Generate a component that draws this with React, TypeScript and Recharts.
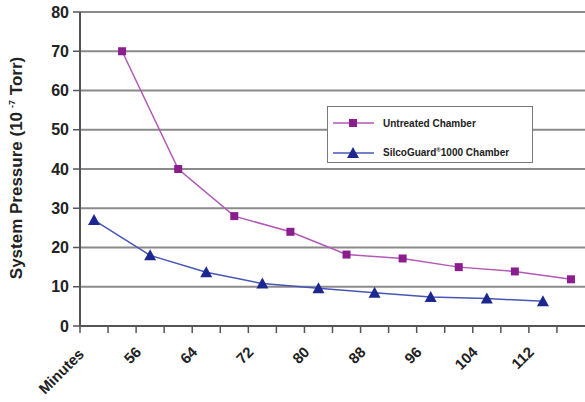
import { LineChart, Line, XAxis, YAxis, CartesianGrid, Legend } from 'recharts';

// minutes on the x axis (untreated readings sit between the SilcoGuard ones)
const untreatedMinutes = [52, 60, 68, 76, 84, 92, 100, 108, 116];
const untreatedPressure = [70, 40, 28, 24, 18.2, 17.2, 15, 13.9, 11.9];

const silcoMinutes = [48, 56, 64, 72, 80, 88, 96, 104, 112];
const silcoPressure = [27, 18, 13.7, 10.8, 9.6, 8.5, 7.4, 7.0, 6.3];

const xTicks = [46, 50, 54, 58, 62, 66, 70, 74, 78, 82, 86, 90, 94, 98, 102, 106, 110, 114];
const xLabels = ['Minutes', '56', '64', '72', '80', '88', '96', '104', '112'];
const yTicks = [0, 10, 20, 30, 40, 50, 60, 70, 80];

const PURPLE = '#8c1d8f';
const PURPLE_LINE = '#b259b6';
const BLUE = '#1d2790';
const BLUE_LINE = '#4656b6';
const FONT = '"Liberation Sans", Arial, sans-serif';

interface Row {
  minute: number;
  untreated: number | null;
  silco: number | null;
}

const rows: Row[] = [
  ...untreatedMinutes.map((m, i) => ({ minute: m, untreated: untreatedPressure[i], silco: null })),
  ...silcoMinutes.map((m, i) => ({ minute: m, untreated: null, silco: silcoPressure[i] })),
].sort((a, b) => a.minute - b.minute);

const SquareDot = (props: any) => {
  const { cx, cy, value } = props;
  if (value == null || cx == null) return null;
  return <rect x={cx - 4} y={cy - 4} width={8} height={8} fill={PURPLE} />;
};

const TriangleDot = (props: any) => {
  const { cx, cy, value } = props;
  if (value == null || cx == null) return null;
  return <polygon points={`${cx},${cy - 6} ${cx + 6},${cy + 5} ${cx - 6},${cy + 5}`} fill={BLUE} />;
};

// only every other tick gets a label, pushed right onto the data column
const XTick = (props: any) => {
  const { x, y, payload } = props;
  const idx = xTicks.indexOf(payload.value);
  if (idx < 0 || idx % 2 !== 0) return null;
  const label = xLabels[idx / 2];
  const ax = x + (idx === 0 ? 5 : 6);
  const ay = y + (idx === 0 ? 20 : 18);
  return (
    <text
      x={ax}
      y={ay}
      textAnchor="end"
      transform={`rotate(-45, ${ax}, ${ay})`}
      fontFamily={FONT}
      fontSize={15}
      fontWeight="bold"
      fill="#222"
    >
      {label}
    </text>
  );
};

const YTitle = () => (
  <text
    x={22}
    y={168}
    textAnchor="middle"
    transform="rotate(-90, 22, 168)"
    fontFamily={FONT}
    fontSize={17}
    fontWeight="bold"
    fill="#222"
  >
    System Pressure (10
    <tspan dx={4} dy={-7} fontSize={9}>-7</tspan>
    <tspan dy={7}> Torr)</tspan>
  </text>
);

const LegendBox = () => {
  const items = [
    { label: 'Untreated Chamber', line: PURPLE_LINE, kind: 'square' },
    { label: 'SilcoGuard', sup: '®', rest: '1000 Chamber', line: BLUE_LINE, kind: 'triangle' },
  ];
  return (
    <div
      style={{
        width: 206,
        height: 57,
        boxSizing: 'border-box',
        border: '1px solid #7a7a7a',
        background: '#fff',
        fontFamily: FONT,
        fontSize: 10,
        fontWeight: 'bold',
        color: '#222',
        position: 'relative',
      }}
    >
      {items.map((it, i) => (
        <div
          key={it.label}
          style={{ position: 'absolute', left: 5, top: i === 0 ? 9 : 39, height: 14, display: 'flex', alignItems: 'center' }}
        >
          <svg width={42} height={14}>
            <line x1={0} y1={7} x2={41} y2={7} stroke={it.line} strokeWidth={1.5} />
            {it.kind === 'square' ? (
              <rect x={16} y={3} width={8} height={8} fill={PURPLE} />
            ) : (
              <polygon points="20,1 26,12 14,12" fill={BLUE} />
            )}
          </svg>
          <span style={{ marginLeft: 8, whiteSpace: 'nowrap' }}>
            {it.label}
            {it.sup && <sup style={{ fontSize: 6 }}>{it.sup}</sup>}
            {it.rest}
          </span>
        </div>
      ))}
    </div>
  );
};

export default function App() {
  return (
    <div style={{ position: 'absolute', left: 0, top: 0, width: 585, height: 402, background: '#fff' }}>
      <LineChart width={585} height={402} data={rows} margin={{ top: 12, right: 0, bottom: 46, left: 0 }}>
        <CartesianGrid horizontal vertical={false} stroke="#8a8a8a" strokeWidth={2} />
        <XAxis
          type="number"
          dataKey="minute"
          domain={[46, 118]}
          ticks={xTicks}
          interval={0}
          allowDataOverflow
          height={30}
          tick={<XTick />}
          tickSize={7}
          axisLine={{ stroke: '#555', strokeWidth: 2 }}
          tickLine={{ stroke: '#555', strokeWidth: 1.5 }}
        />
        <YAxis
          type="number"
          domain={[0, 80]}
          ticks={yTicks}
          interval={0}
          width={80}
          tickSize={7}
          tickMargin={4}
          axisLine={{ stroke: '#555', strokeWidth: 2 }}
          tickLine={{ stroke: '#555', strokeWidth: 1.5 }}
          tick={{ fontFamily: FONT, fontSize: 16, fontWeight: 'bold', fill: '#222' }}
          label={{ content: () => <YTitle /> }}
        />
        <Legend
          verticalAlign="middle"
          align="center"
          layout="horizontal"
          wrapperStyle={{ left: 327, top: 106, width: 206 }}
          content={() => <LegendBox />}
        />
        <Line
          type="linear"
          dataKey="untreated"
          stroke={PURPLE_LINE}
          strokeWidth={1.5}
          dot={<SquareDot />}
          activeDot={false}
          connectNulls
          isAnimationActive={false}
        />
        <Line
          type="linear"
          dataKey="silco"
          stroke={BLUE_LINE}
          strokeWidth={1.5}
          dot={<TriangleDot />}
          activeDot={false}
          connectNulls
          isAnimationActive={false}
        />
      </LineChart>
    </div>
  );
}
